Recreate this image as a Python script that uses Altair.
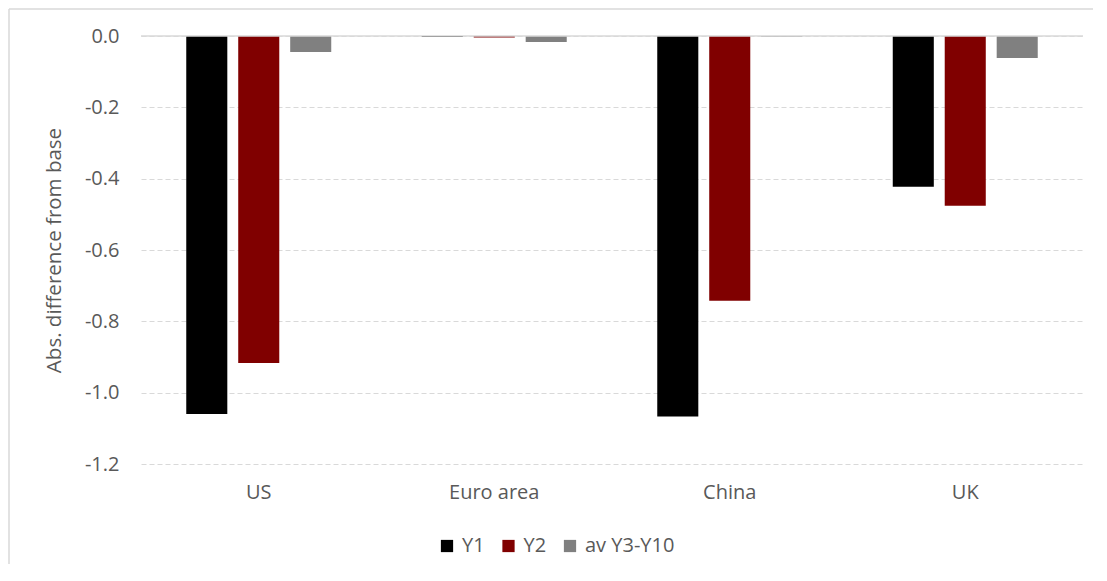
import altair as alt
import pandas as pd

countries = ["US", "Euro area", "China", "UK"]
series = ["Y1", "Y2", "av Y3-Y10"]
y1 = [-1.060, -0.003, -1.067, -0.423]
y2 = [-0.917, -0.004, -0.742, -0.476]
y3 = [-0.045, -0.017, -0.002, -0.062]
colors = ["#000000", "#800000", "#808080"]

rows = []
for i, c in enumerate(countries):
    for s, vals in zip(series, [y1, y2, y3]):
        rows.append({"country": c, "series": s, "value": vals[i]})
df = pd.DataFrame(rows)

W, H = 942, 428
FONT = "Open Sans"
TXT = "#595959"
FS = 20

bars = alt.Chart(df).mark_bar().encode(
    x=alt.X("country:N", sort=countries,
            scale=alt.Scale(paddingInner=0.338, paddingOuter=0.169),
            axis=alt.Axis(title=None, labelAngle=0, ticks=False, domain=False,
                          labelPadding=18, labelFontSize=FS, labelColor=TXT,
                          labelFont=FONT, orient="bottom")),
    xOffset=alt.XOffset("series:N", sort=series,
                        scale=alt.Scale(paddingInner=0.21, paddingOuter=0.105)),
    y=alt.Y("value:Q", scale=alt.Scale(domain=[-1.2, 0.0], nice=False),
            axis=alt.Axis(title="Abs. difference from base",
                          values=[0, -0.2, -0.4, -0.6, -0.8, -1.0, -1.2],
                          labelExpr="replace(format(datum.value, '.1f'), '\u2212', '-')",
                          ticks=False, domain=False,
                          gridColor="#d9d9d9", gridDash=[5, 3], gridWidth=1,
                          labelPadding=22, labelFontSize=FS, labelColor=TXT, labelFont=FONT,
                          titleFontSize=FS + 0.5, titleColor=TXT, titleFont=FONT,
                          titleFontWeight="normal", titlePadding=20)),
    y2=alt.datum(0),
    color=alt.Color("series:N", sort=series,
                    scale=alt.Scale(domain=series, range=colors),
                    legend=alt.Legend(title=None, orient="none", direction="horizontal",
                                      legendX=296, legendY=500, symbolType="square",
                                      symbolSize=150, symbolStrokeWidth=0,
                                      labelFontSize=FS, labelColor=TXT, labelFont=FONT,
                                      labelOffset=5, columnPadding=13.5)),
)

one = pd.DataFrame({"a": [0]})
zero = alt.Chart(one).mark_rule(color="#d9d9d9", strokeWidth=1.5).encode(
    y=alt.datum(0, type="quantitative"))
frame_left = alt.Chart(one).mark_rule(color="#d9d9d9", strokeWidth=1.5).encode(
    x=alt.value(-132), y=alt.value(-27), y2=alt.value(H + 130))
frame_top = alt.Chart(one).mark_rule(color="#d9d9d9", strokeWidth=1.5).encode(
    x=alt.value(-132), x2=alt.value(W + 40), y=alt.value(-27))

chart = alt.layer(bars, zero, frame_left, frame_top).properties(
    width=W, height=H,
    background="white",
    autosize=alt.AutoSizeParams(type="none"),
    padding={"left": 133, "top": 28, "right": 10, "bottom": 100},
).configure_view(stroke=None)

chart.save("out.html", embed_options={"renderer": "svg", "actions": False})
